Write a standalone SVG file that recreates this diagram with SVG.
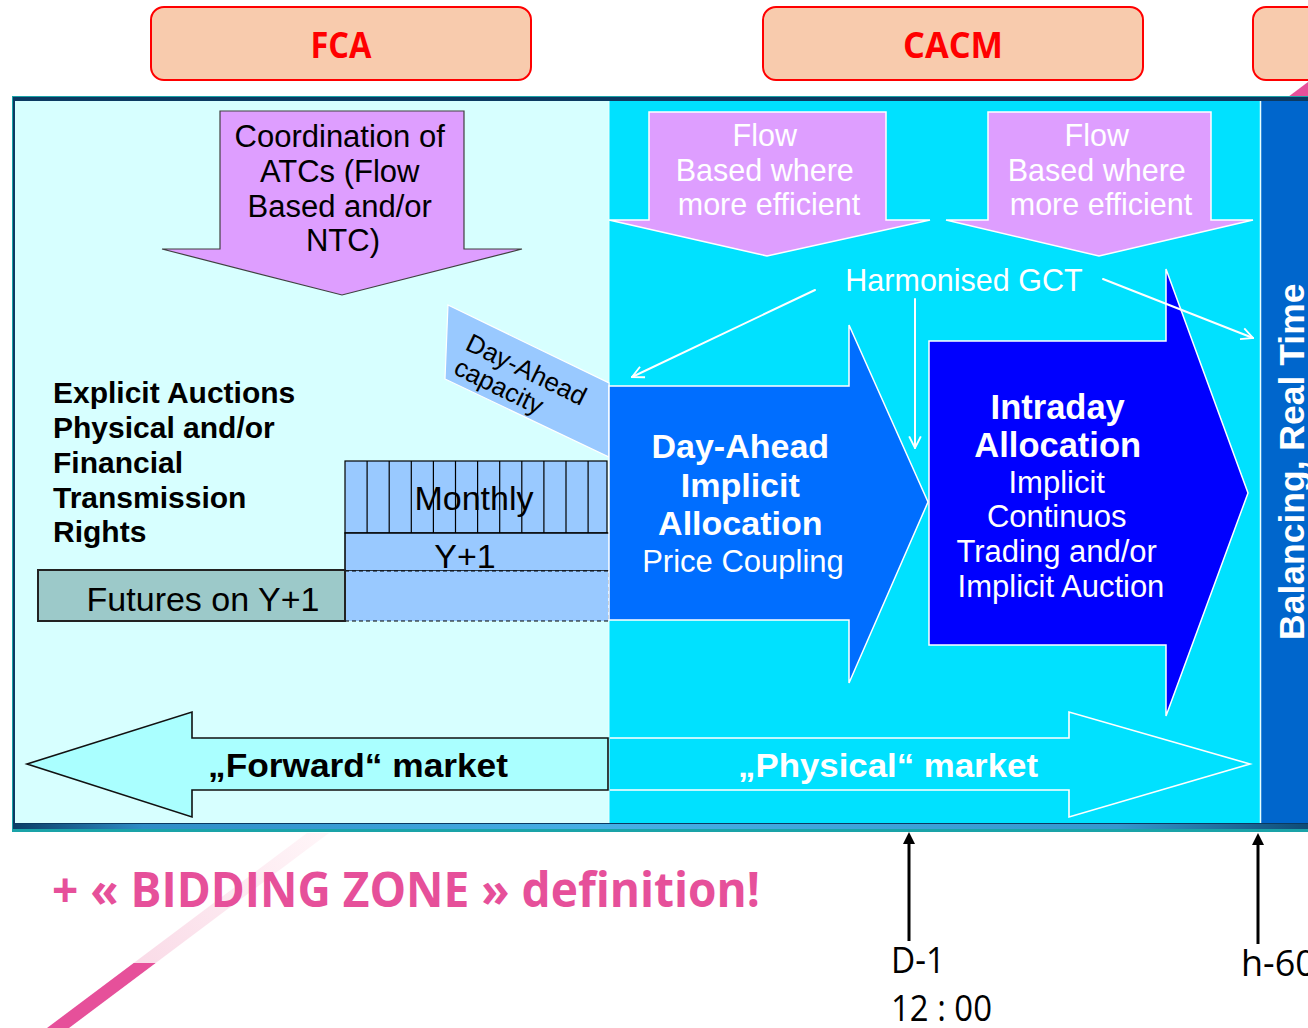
<svg xmlns="http://www.w3.org/2000/svg" width="1308" height="1028" viewBox="0 0 1308 1028">
  <defs>
    <style>
      .hdr{fill:#F8CBAD;stroke:#FF0000;stroke-width:2}
      .hdrt{font-family:"Open Sans","Noto Sans",sans-serif;font-weight:700;font-size:36px;fill:#FF0000;text-anchor:middle}
      .ar{font-family:"Liberation Sans",Arial,sans-serif}
      .cal{font-family:"Open Sans","Noto Sans",sans-serif}
      .b{font-weight:700}
      .w{fill:#FFFFFF}
      .k{fill:#000000}
      .mid{text-anchor:middle}
      .violet{fill:#DE9EFF}
      .blue{fill:#99C9FF}
      .conn{fill:none;stroke:#FFFFFF;stroke-width:2;stroke-linecap:round}
      .tick{stroke:#000000;stroke-width:3}
    </style>
    <linearGradient id="bottomEdge" x1="0" y1="0" x2="1" y2="0">
      <stop offset="0" stop-color="#0B3D66"/>
      <stop offset="0.1" stop-color="#2E8CC6"/>
      <stop offset="0.45" stop-color="#46B0E6"/>
      <stop offset="0.85" stop-color="#3598CF"/>
      <stop offset="1" stop-color="#0E4A74"/>
    </linearGradient>
    <linearGradient id="fade" gradientUnits="userSpaceOnUse" x1="145" y1="963" x2="318" y2="833">
      <stop offset="0" stop-color="#FADCE8"/>
      <stop offset="1" stop-color="#FFF5F8"/>
    </linearGradient>
    <marker id="open" viewBox="0 0 12 12" refX="11" refY="6" markerWidth="14" markerHeight="14" markerUnits="userSpaceOnUse" orient="auto">
      <path d="M1,1 L11,6 L1,11" fill="none" stroke="#FFFFFF" stroke-width="1.6"/>
    </marker>
    <marker id="tri" viewBox="0 0 12 12" refX="4" refY="6" markerWidth="12" markerHeight="12" markerUnits="userSpaceOnUse" orient="auto">
      <path d="M0,0 L12,6 L0,12 Z" fill="#000000"/>
    </marker>
  </defs>

  <rect width="1308" height="1028" fill="#FFFFFF"/>

  <!-- pink diagonal accent running behind the frame -->
  <g id="accent">
    <polygon points="47,1028 69,1028 155.7,963 133.7,963" fill="#E6509A"/>
    <polygon points="133.7,963 155.7,963 329,833 307,833" fill="url(#fade)"/>
    <polygon points="1288,97 1310,97 1330,82 1308,82" fill="#E6509A"/>
  </g>

  <!-- regulation headers -->
  <g id="fca-header">
    <rect class="hdr" x="151" y="7" width="380" height="73" rx="13"/>
    <text class="hdrt" x="341" y="58" textLength="61" lengthAdjust="spacingAndGlyphs">FCA</text>
  </g>
  <g id="cacm-header">
    <rect class="hdr" x="763" y="7" width="380" height="73" rx="13"/>
    <text class="hdrt" x="953" y="58" textLength="100" lengthAdjust="spacingAndGlyphs">CACM</text>
  </g>
  <g id="next-header">
    <rect class="hdr" x="1253" y="7" width="120" height="73" rx="13"/>
  </g>

  <!-- frame and panels -->
  <g id="frame">
    <rect x="12" y="96" width="1300" height="736" fill="#1AA3A8"/>
    <rect x="13" y="97" width="1299" height="731" fill="#0B3A62"/>
    <rect x="13" y="824" width="1299" height="5" fill="url(#bottomEdge)"/>
    <rect x="15" y="101" width="594" height="722" fill="#D7FFFF"/>
    <rect x="609" y="101" width="651" height="722" fill="#00E1FF"/>
    <line x1="609" y1="101" x2="609" y2="823" stroke="#E6FFFF" stroke-width="1"/>
    <rect x="1261" y="101" width="50" height="722" fill="#0066CC"/>
    <line x1="1260.5" y1="101" x2="1260.5" y2="823" stroke="#E6FFFF" stroke-width="1.5"/>
  </g>

  <g id="atc-coordination">
    <path class="violet" d="M220,111 L464,111 L464,249 L522,249 L342,295 L162,249 L220,249 Z" stroke="#404040" stroke-width="1.2"/>
    <text class="ar k mid" font-size="31">
      <tspan x="344" y="147">Coordination of</tspan>
      <tspan x="344" y="182">ATCs (Flow</tspan>
      <tspan x="344" y="217">Based and/or</tspan>
      <tspan x="343" y="251">NTC)</tspan>
    </text>
  </g>

  <g id="flow-based-da">
    <path class="violet" d="M649,112 L886,112 L886,220 L930,220 L767,256 L609,220 L649,220 Z" stroke="#FFFFFF" stroke-width="1.5"/>
    <text class="ar w mid" font-size="30.5">
      <tspan x="769" y="146">Flow</tspan>
      <tspan x="769" y="181">Based where</tspan>
      <tspan x="769" y="215">more efficient</tspan>
    </text>
  </g>

  <g id="flow-based-id">
    <path class="violet" d="M988,112 L1211,112 L1211,220 L1253,220 L1099,256 L946,220 L988,220 Z" stroke="#FFFFFF" stroke-width="1.5"/>
    <text class="ar w mid" font-size="30.5">
      <tspan x="1101" y="146">Flow</tspan>
      <tspan x="1101" y="181">Based where</tspan>
      <tspan x="1101" y="215">more efficient</tspan>
    </text>
  </g>

  <g id="harmonised-gct">
    <text class="ar w mid" x="964" y="291" font-size="30.5">Harmonised GCT</text>
  </g>

  <g id="explicit-auctions">
    <text class="ar k b" font-size="30">
      <tspan x="53" y="403">Explicit Auctions</tspan>
      <tspan x="53" y="438">Physical and/or</tspan>
      <tspan x="53" y="473">Financial</tspan>
      <tspan x="53" y="508">Transmission</tspan>
      <tspan x="53" y="542">Rights</tspan>
    </text>
  </g>

  <g id="day-ahead-capacity">
    <polygon class="blue" points="448,305 609,383 609,457 445,379" stroke="#FFFFFF" stroke-width="1.2"/>
    <g transform="translate(464,349) rotate(26)">
      <text class="ar k" x="0" y="0" font-size="26">Day-Ahead</text>
      <text class="ar k" x="0" y="27" font-size="26">capacity</text>
    </g>
  </g>

  <g id="monthly">
    <rect class="blue" x="345" y="461" width="262" height="72" stroke="#000000" stroke-width="1.2"/>
    <path d="M367.1,461V533 M389.2,461V533 M411.3,461V533 M433.4,461V533 M455.5,461V533 M477.6,461V533 M499.7,461V533 M521.8,461V533 M543.9,461V533 M566,461V533 M588.1,461V533" stroke="#000000" stroke-width="1.2"/>
    <text class="ar k mid" x="474" y="510" font-size="34">Monthly</text>
  </g>

  <g id="year-ahead">
    <rect class="blue" x="345" y="533" width="265" height="38" stroke="#000000" stroke-width="1.5"/>
    <rect class="blue" x="345" y="571" width="264" height="50" stroke="#000000" stroke-width="1.2" stroke-dasharray="4,3"/>
    <text class="ar k mid" x="465" y="568" font-size="34">Y+1</text>
  </g>

  <g id="futures">
    <rect x="38" y="570" width="307" height="51" fill="#9CC9C9" stroke="#222222" stroke-width="2"/>
    <text class="ar k mid" x="203" y="611" font-size="34">Futures on Y+1</text>
  </g>

  <g id="day-ahead-allocation">
    <path d="M609,386 L849,386 L849,325 L928,502 L849,683 L849,620 L609,620 Z" fill="#006EFF" stroke="#FFFFFF" stroke-width="1.5"/>
    <text class="ar w mid" font-size="34">
      <tspan class="b" x="745" y="458">Day-Ahead</tspan>
      <tspan class="b" x="745" y="497">Implicit</tspan>
      <tspan class="b" x="745" y="535">Allocation</tspan>
      <tspan x="743" y="572" font-size="31">Price Coupling</tspan>
    </text>
  </g>

  <g id="intraday-allocation">
    <path d="M929,341 L1166,341 L1166,269 L1248,493 L1166,716 L1166,645 L929,645 Z" fill="#0000FF" stroke="#FFFFFF" stroke-width="1.5"/>
    <text class="ar w mid" font-size="31">
      <tspan class="b" x="1062" y="419" font-size="34.5">Intraday</tspan>
      <tspan class="b" x="1062" y="457" font-size="34.5">Allocation</tspan>
      <tspan x="1061" y="493">Implicit</tspan>
      <tspan x="1061" y="527">Continuos</tspan>
      <tspan x="1061" y="562">Trading and/or</tspan>
      <tspan x="1061" y="597">Implicit Auction</tspan>
    </text>
  </g>

  <g id="balancing">
    <text class="ar w b" font-size="35.5" transform="translate(1304,640) rotate(-90)">Balancing, Real Time</text>
  </g>

  <g id="forward-market">
    <path d="M608,738 L192,738 L192,712 L27,764 L192,817 L192,790 L608,790 Z" fill="#AAFFFF" stroke="#111111" stroke-width="1.6"/>
    <text class="ar k b" x="208" y="777" font-size="34" textLength="300" lengthAdjust="spacingAndGlyphs">„Forward“ market</text>
  </g>

  <g id="physical-market">
    <path d="M610,738 L1069,738 L1069,712 L1250,764 L1069,817 L1069,790 L610,790" fill="#00E1FF" stroke="#FFFFFF" stroke-width="1.6"/>
    <text class="ar w b" x="738" y="777" font-size="34" textLength="300" lengthAdjust="spacingAndGlyphs">„Physical“ market</text>
  </g>

  <g id="connectors">
    <path class="conn" d="M815,290 L632,377" marker-end="url(#open)"/>
    <path class="conn" d="M915,299 L915,448" marker-end="url(#open)"/>
    <path class="conn" d="M1103,279 L1253,338" marker-end="url(#open)"/>
    <line class="tick" x1="909" y1="941" x2="909" y2="840" marker-end="url(#tri)"/>
    <line class="tick" x1="1258" y1="944" x2="1258" y2="841" marker-end="url(#tri)"/>
  </g>

  <g id="bidding-zone">
    <text class="cal b" x="52" y="907" font-size="48" fill="#E6509A" textLength="708" lengthAdjust="spacingAndGlyphs">+ « BIDDING ZONE » definition!</text>
  </g>

  <g id="timeline-labels">
    <text class="cal k" x="891" y="973" font-size="36" textLength="54" lengthAdjust="spacingAndGlyphs">D-1</text>
    <text class="cal k" x="891" y="1021" font-size="36" textLength="101" lengthAdjust="spacingAndGlyphs">12 : 00</text>
    <text class="cal k" x="1241" y="976" font-size="36">h-60</text>
  </g>
</svg>
